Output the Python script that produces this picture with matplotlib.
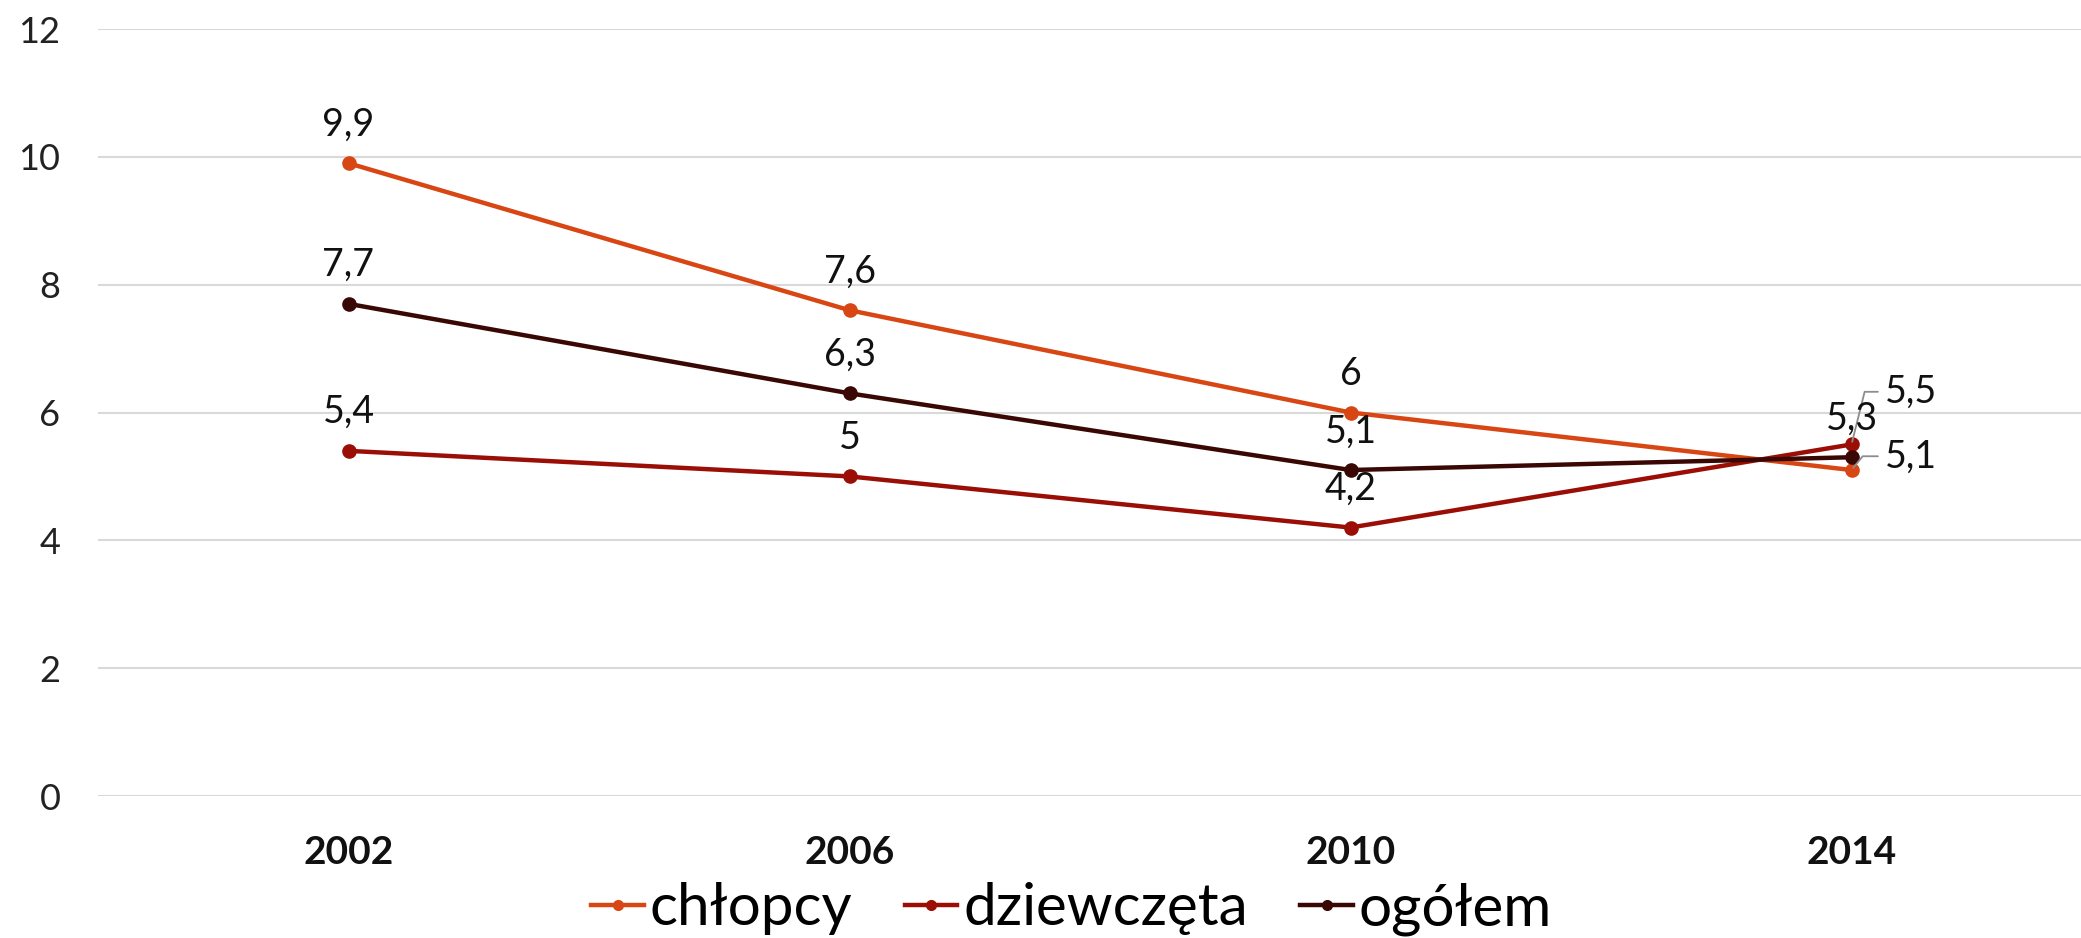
import matplotlib
matplotlib.use("Agg")
import matplotlib.pyplot as plt
from matplotlib.lines import Line2D

# --- data -------------------------------------------------------------
years = ["2002", "2006", "2010", "2014"]
series_names = ["chłopcy", "dziewczęta", "ogółem"]
chlopcy = [9.9, 7.6, 6.0, 5.1]
dziewczeta = [5.4, 5.0, 4.2, 5.5]
ogolem = [7.7, 6.3, 5.1, 5.3]
y_ticks = [0, 2, 4, 6, 8, 10, 12]

colors = ["#D84614", "#9A0E06", "#3A0804"]
values = [chlopcy, dziewczeta, ogolem]

FONT = ["Lato", "DejaVu Sans"]
plt.rcParams["font.family"] = FONT

fig = plt.figure(figsize=(20.81, 9.38), dpi=100)
fig.patch.set_facecolor("white")
ax = fig.add_axes([98 / 2081, 1 - 796 / 938, 2004 / 2081, (796 - 29) / 938])

x = list(range(len(years)))
for name, vals, c in zip(series_names, values, colors):
    ax.plot(x, vals, color=c, lw=3.2, marker="o", markersize=9.5,
            solid_capstyle="round", label=name, zorder=3)


def fmt(v):
    s = f"{v:g}"
    return s.replace(".", ",")


# label offsets (points) per series and category; default: centred above
special = {
    (0, 3): dict(off=(24, 2), ha="left", leader=51),
    (1, 3): dict(off=(24, 30), ha="left", leader=76),
}
for si, vals in enumerate(values):
    for i, v in enumerate(vals):
        spec = special.get((si, i))
        if spec is None:
            ax.annotate(fmt(v), (i, v), xytext=(0, 20), textcoords="offset points",
                        ha="center", va="baseline", fontsize=27, color="#111111",
                        zorder=5)
        else:
            ax.annotate(fmt(v), (i, v), xytext=spec["off"], textcoords="offset points",
                        ha=spec["ha"], va="baseline", fontsize=27, color="#111111",
                        zorder=5,
                        arrowprops=dict(arrowstyle="-", color="#8C8C8C", lw=1.3,
                                        connectionstyle=f"angle,angleA=0,angleB={spec['leader']},rad=0",
                                        shrinkA=3, shrinkB=2))

ax.set_xlim(-0.5, len(years) - 0.5)
ax.set_ylim(0, 12)
ax.set_yticks(y_ticks)
ax.set_yticklabels([str(t) for t in y_ticks])
ax.set_xticks(x)
ax.set_xticklabels(years, fontweight="bold")
ax.tick_params(axis="y", labelsize=26, length=0, pad=27, labelcolor="#222222")
ax.tick_params(axis="x", labelsize=28, length=0, pad=28, labelcolor="#111111")
ax.grid(axis="y", color="#D9D9D9", lw=1.5)
ax.set_axisbelow(True)
for sp in ax.spines.values():
    sp.set_visible(False)

handles = [Line2D([0], [0], color=c, lw=3.2, marker="o", markersize=7)
           for c in colors]
fig.legend(handles, series_names, loc="center", bbox_to_anchor=(0.515, 0.031),
           ncol=3, frameon=False, fontsize=42, handlelength=0.9,
           handletextpad=0.1, columnspacing=0.9, borderpad=0)

fig.savefig("out.png", dpi=100, facecolor="white")
